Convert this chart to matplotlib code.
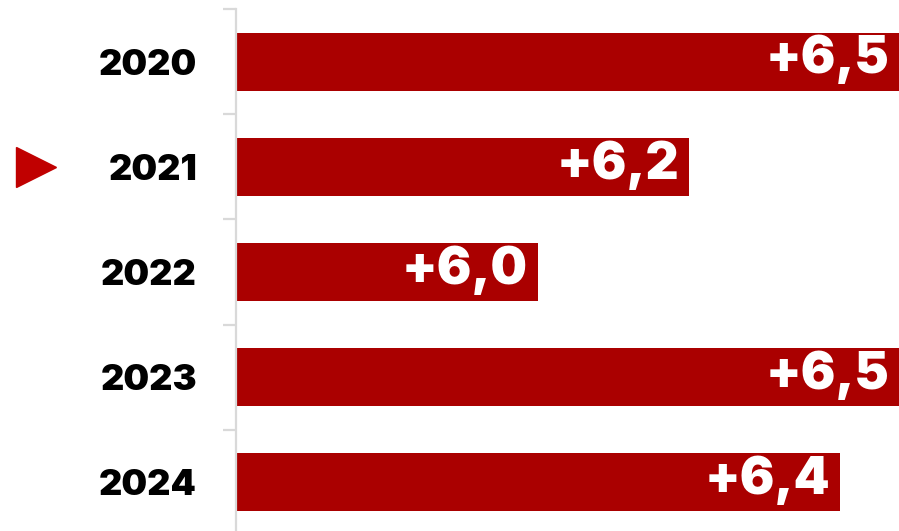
import matplotlib
matplotlib.use("Agg")
from matplotlib import pyplot as plt
from matplotlib.transforms import blended_transform_factory
import numpy as np

# ------------------ data ------------------ #
years = ["2020", "2021", "2022", "2023", "2024"]
values = [6.5, 6.215, 6.01, 6.5, 6.42]
highlight = "2021"

bar_color = "#AA0000"
grid_gray = "#D9D9D9"
font = ["Inter", "DejaVu Sans"]

# ------------------ figure ------------------ #
fig = plt.figure(figsize=(8.99, 5.31), dpi=100)
ax = fig.add_axes([236 / 899, -4 / 531, 663 / 899, 526 / 531])

y = np.arange(len(years))
ax.barh(y, values, height=0.55, color=bar_color, left=0)
ax.set_xlim(5.6, 6.5)
ax.set_ylim(len(years) - 0.5, -0.5)

# value labels inside bar ends
for yi, v in zip(y, values):
    label = "+" + f"{v:.1f}".replace(".", ",")
    ax.annotate(label, (min(v, 6.5), yi), xytext=(-10, 2), textcoords="offset pixels",
                ha="right", va="center", color="white", fontsize=37,
                fontweight=900, family=font)

# axes styling
for s in ["top", "right", "bottom"]:
    ax.spines[s].set_visible(False)
ax.spines["left"].set_color(grid_gray)
ax.spines["left"].set_linewidth(1.6)
ax.set_xticks([])
ax.set_yticks(y)
ax.set_yticklabels(years, fontsize=26, fontweight=900, family=font)
ax.tick_params(axis="y", length=0, pad=28)
ax.set_yticks(np.arange(-0.5, len(years), 1), minor=True)
ax.tick_params(axis="y", which="minor", length=9.5, width=1.6, color=grid_gray)

# marker for the current year
trans = blended_transform_factory(fig.transFigure, ax.transData)
ax.plot([36 / 899], [years.index(highlight)], marker=">", markersize=29,
        color="#C00000", transform=trans, clip_on=False, linestyle="none")

fig.savefig("out.png", dpi=100)
